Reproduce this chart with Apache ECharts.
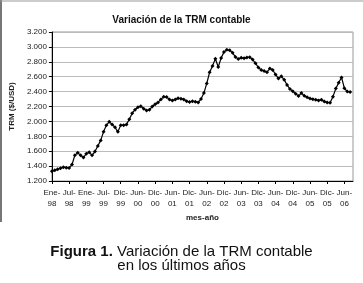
<!DOCTYPE html>
<html>
<head>
<meta charset="utf-8">
<script src="https://cdn.jsdelivr.net/npm/echarts@6/dist/echarts.min.js"></script>
<style>
  html, body { margin: 0; padding: 0; background: #fff; }
  #chart { width: 363px; height: 283px; }
</style>
</head>
<body>
<div id="chart"></div>
<script>
// TRM contable mensual, Ene-98 .. Sep-06
const trm = [
  1332, 1345, 1358, 1372, 1386, 1378, 1375, 1420, 1545, 1578,
  1545, 1515, 1566, 1585, 1545, 1595, 1670, 1745, 1860, 1950,
  1995, 1960, 1920, 1860, 1950, 1947, 1960, 2030, 2110, 2158,
  2190, 2205, 2170, 2145, 2155, 2200, 2230, 2255, 2295, 2330,
  2328, 2293, 2280, 2295, 2311, 2305, 2295, 2272, 2260, 2270,
  2265, 2255, 2300, 2380, 2510, 2660, 2745, 2840, 2730, 2850,
  2930, 2962, 2955, 2920, 2865, 2838, 2853, 2846, 2857, 2862,
  2830, 2780, 2725, 2690, 2676, 2660, 2710, 2690, 2630, 2575,
  2605, 2560, 2490, 2435, 2405, 2370, 2340, 2380, 2345, 2325,
  2308, 2298, 2289, 2282, 2290, 2268, 2255, 2250, 2330, 2440,
  2520, 2590, 2445, 2400, 2395
];

// etiquetas del eje x, una cada 6 meses
const xLabels = [
  'Ene-98', 'Jul-98', 'Ene-99', 'Jul-99', 'Dic-99', 'Jun-00', 'Dic-00', 'Jun-01',
  'Dic-01', 'Jun-02', 'Dic-02', 'Jun-03', 'Dic-03', 'Jun-04', 'Dic-04', 'Jun-05',
  'Dic-05', 'Jun-06'
];

const yMin = 1200, yMax = 3200, yStep = 200;

// una categoria por mes, mas una vacia al final
const months = [];
for (let i = 0; i <= trm.length; i++) months.push(String(i));
const values = trm.concat([null]);

const capFont = { fontFamily: 'Liberation Sans', fontSize: 15, fontWeight: 'normal', color: '#111' };

const chart = echarts.init(document.getElementById('chart'));

chart.setOption({
  animation: false,
  backgroundColor: '#fff',
  title: [
    {
      text: 'Variación de la TRM contable',
      left: 'center',
      top: 10,
      textStyle: { fontFamily: 'Liberation Sans', fontSize: 10, fontWeight: 'bold', color: '#111' }
    },
    {
      text: '{b|Figura 1.} Variación de la TRM contable',
      left: 'center',
      top: 244,
      padding: 0,
      textStyle: Object.assign({}, capFont, {
        rich: { b: Object.assign({}, capFont, { fontWeight: 'bold' }) }
      })
    },
    {
      text: 'en los últimos años',
      left: 'center',
      top: 258,
      padding: 0,
      textStyle: capFont
    }
  ],
  graphic: [
    { type: 'line', shape: { x1: 1, y1: 0, x2: 1, y2: 222 }, style: { stroke: '#777', lineWidth: 2 } },
    { type: 'line', shape: { x1: 0, y1: 1, x2: 363, y2: 1 }, style: { stroke: '#999', lineWidth: 1 } }
  ],
  grid: {
    left: 49, right: 10, top: 32, bottom: 102,
    show: true, borderColor: '#999', borderWidth: 1
  },
  xAxis: {
    type: 'category',
    data: months,
    boundaryGap: false,
    name: 'mes-año',
    nameLocation: 'middle',
    nameGap: 31,
    nameTextStyle: { fontFamily: 'Liberation Sans', fontSize: 8, fontWeight: 'bold', color: '#222' },
    axisLine: { lineStyle: { color: '#000', width: 1 } },
    axisTick: { interval: 5, length: 3, lineStyle: { color: '#000' } },
    axisLabel: {
      interval: 5,
      margin: 6,
      fontFamily: 'Liberation Sans',
      fontSize: 8,
      lineHeight: 11,
      color: '#222',
      formatter: (v, idx) => {
        const l = xLabels[idx / 6];
        return l ? l.replace('-', '-\n') : '';
      }
    },
    splitLine: { show: false }
  },
  yAxis: {
    type: 'value',
    min: yMin, max: yMax, interval: yStep,
    name: 'TRM ($/USD)',
    nameLocation: 'middle',
    nameGap: 30,
    nameTextStyle: { fontFamily: 'Liberation Sans', fontSize: 8, fontWeight: 'bold', color: '#222' },
    axisLine: { show: true, lineStyle: { color: '#000', width: 1 } },
    axisTick: { show: true, length: 3, lineStyle: { color: '#000' } },
    axisLabel: {
      margin: 5,
      fontFamily: 'Liberation Sans',
      fontSize: 8,
      color: '#222',
      formatter: v => v.toLocaleString('de-DE')
    },
    splitLine: { show: true, lineStyle: { color: '#bbb', width: 1 } }
  },
  series: [{
    type: 'line',
    data: values,
    symbol: 'diamond',
    symbolSize: 4,
    showAllSymbol: true,
    lineStyle: { color: '#000', width: 1.2 },
    itemStyle: { color: '#000' }
  }]
});
</script>
</body>
</html>
